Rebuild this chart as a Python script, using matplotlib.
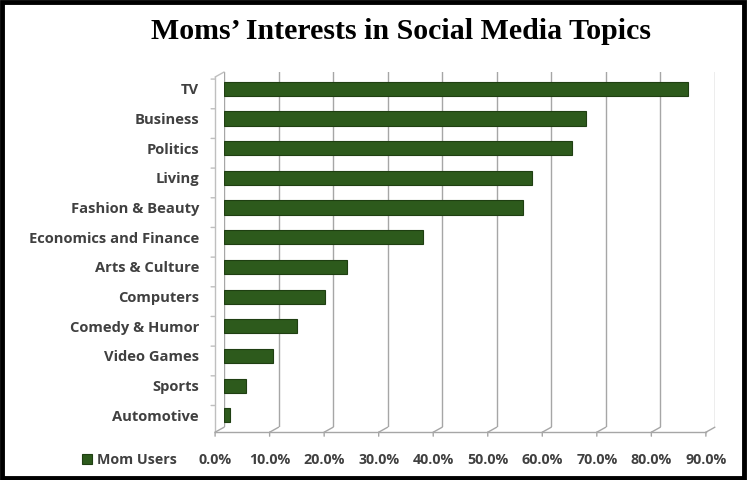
import matplotlib.pyplot as plt
import matplotlib.transforms as mtransforms
from matplotlib.patches import Rectangle

topics = ["TV", "Business", "Politics", "Living", "Fashion & Beauty",
          "Economics and Finance", "Arts & Culture", "Computers",
          "Comedy & Humor", "Video Games", "Sports", "Automotive"]
mom_users = [85.0, 66.4, 63.8, 56.4, 54.8, 36.4, 22.5, 18.5, 13.4, 9.0, 4.1, 1.0]
xticks = [0, 10, 20, 30, 40, 50, 60, 70, 80, 90]

bar_color = "#2d5a1c"
label_color = "#404040"
grid_color = "#a6a6a6"
font = "Open Sans"

fig = plt.figure(figsize=(7.47, 4.80), dpi=100)
ax = fig.add_axes([0.300, 0.110, 0.657, 0.740])

ypos = list(range(len(topics)))
bars = ax.barh(ypos, mom_users, height=0.48, color=bar_color,
               edgecolor="#1f3f12", linewidth=0.8, zorder=3, label="Mom Users")

ax.set_xlim(0, 90)
ax.set_ylim(len(topics) - 0.6, -0.57)
ax.set_xticks(xticks)
ax.set_xticklabels([])
ax.set_yticks(ypos)
ax.set_yticklabels(topics, fontsize=10.6, fontfamily=font,
                   fontweight="bold", color=label_color)

# 3d-ish floor and side wall: front edges sit a few pixels left of / below the back wall
def px(dx, dy):
    return mtransforms.ScaledTranslation(dx / 100, dy / 100, fig.dpi_scale_trans)

xt = ax.get_xaxis_transform()
yt = ax.get_yaxis_transform()
front = xt + px(-9, -5)
tick_end = xt + px(-9, -9)
arrow = dict(arrowstyle="-", color=grid_color, lw=1.0, shrinkA=0, shrinkB=0)

ax.plot([xticks[0], xticks[-1]], [0, 0], transform=front,
        color=grid_color, lw=1.0, clip_on=False)
for v in xticks:
    ax.annotate("", xy=(v, 0), xycoords=front, xytext=(v, 0),
                textcoords=xt, arrowprops=arrow)
    ax.annotate("", xy=(v, 0), xycoords=tick_end, xytext=(v, 0),
                textcoords=front, arrowprops=arrow)
    ax.text(v, 0, f"{v:.1f}%", transform=xt + px(-9, -33), ha="center",
            va="center", fontsize=10.3, fontfamily=font, fontweight="bold",
            color=label_color, clip_on=False)

# front left axis with category separators
side_front = yt + px(-9, -5)
ax.plot([0, 0], [0, 1], transform=ax.transAxes + px(-9, -5),
        color="#bfbfbf", lw=1.0, clip_on=False)
ax.annotate("", xy=(0, 1), xycoords=ax.transAxes + px(-9, -5), xytext=(0, 1),
            textcoords=ax.transAxes, arrowprops=dict(arrow, color="#bfbfbf"))
for i in range(len(topics)):
    ax.annotate("", xy=(0, i - 0.5), xycoords=yt + px(-13, -5), xytext=(0, i - 0.5),
                textcoords=side_front, arrowprops=dict(arrow, color="#bfbfbf"))

ax.grid(axis="x", color=grid_color, linewidth=1.0, zorder=0)
for side in ["top", "right", "bottom", "left"]:
    ax.spines[side].set_visible(False)
ax.tick_params(axis="x", length=0)
ax.tick_params(axis="y", length=0, pad=18)

leg = fig.legend(handles=[bars], labels=["Mom Users"], loc="center left",
                 bbox_to_anchor=(0.092, 0.042), frameon=False,
                 handlelength=0.7, handleheight=0.7, handletextpad=0.4,
                 prop={"family": font, "weight": "bold", "size": 10.3})
for t in leg.get_texts():
    t.set_color(label_color)

fig.text(0.537, 0.935, "Moms\u2019 Interests in Social Media Topics",
         ha="center", va="center", fontsize=21.5, fontweight="bold",
         fontfamily="Liberation Serif", color="black")

fig.patches.append(Rectangle((0.003, 0.004), 0.993, 0.991, transform=fig.transFigure,
                             fill=False, edgecolor="black", linewidth=3.5))

fig.savefig("out.png", dpi=100)
plt.close(fig)
